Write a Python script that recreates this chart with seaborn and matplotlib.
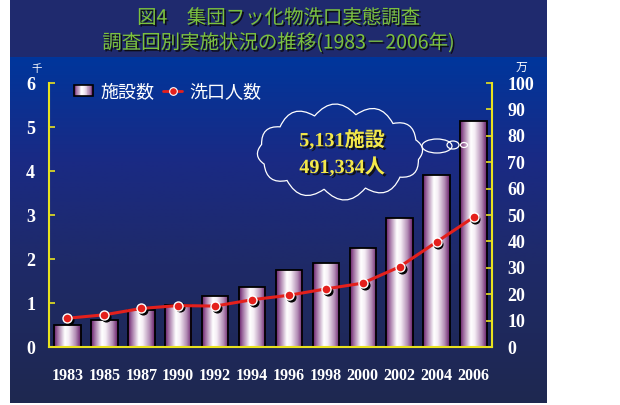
import numpy as np
import pandas as pd
import matplotlib
matplotlib.use('Agg')
import matplotlib.pyplot as plt
import seaborn as sns
from matplotlib.colors import LinearSegmentedColormap
from matplotlib.patches import Rectangle, Ellipse, PathPatch
from matplotlib.path import Path
from matplotlib.legend_handler import HandlerBase
from matplotlib.lines import Line2D
import matplotlib.patheffects as pe
import matplotlib.transforms as mtransforms

# ---------------- data ----------------
years = ['1983', '1985', '1987', '1990', '1992', '1994', '1996', '1998', '2000', '2002', '2004', '2006']
facilities = [0.50, 0.62, 0.85, 0.96, 1.16, 1.37, 1.74, 1.91, 2.25, 2.94, 3.90, 5.131]   # 千施設
people = [10.9, 12.2, 14.6, 15.7, 15.5, 17.9, 19.6, 22.0, 24.2, 30.4, 39.8, 49.13]      # 万人
left_ticks = [0, 1, 2, 3, 4, 5, 6]
right_ticks = [0, 10, 20, 30, 40, 50, 60, 70, 80, 90, 100]
title_lines = ['図4　集団フッ化物洗口実態調査', '調査回別実施状況の推移(1983－2006年)']
legend_labels = ['施設数', '洗口人数']
callout_lines = ['5,131施設', '491,334人']
left_unit = '千'
right_unit = '万'

# ---------------- style ----------------
sns.set_theme(style='white')
plt.rcParams['font.family'] = ['Noto Sans CJK JP', 'DejaVu Sans']

YELLOW = '#e8e21e'
RED = '#e4201c'
SERIF = ['Liberation Serif', 'Noto Sans CJK JP']

W, H = 620, 405
fig = plt.figure(figsize=(6.2, 4.05), dpi=100, facecolor='white')


def fx(x):
    return x / W


def fy(y):
    return 1 - y / H


# background axes in pixel coordinates
bg = fig.add_axes([0, 0, 1, 1], zorder=0)
bg.add_patch(Rectangle((10, 0), 537, 57, color='#1f2a6e', lw=0))
grad_cmap = LinearSegmentedColormap.from_list(
    'bgv', [(0, '#00369c'), (0.3, '#1a2a84'), (0.6, '#1f2a68'), (1, '#1e2850')])
bg.imshow(np.linspace(0, 1, 256).reshape(-1, 1), cmap=grad_cmap, aspect='auto',
          extent=(10, 547, 403, 57), interpolation='bilinear')
bg.set_xlim(0, W)
bg.set_ylim(H, 0)
bg.axis('off')

# title
for i, t in enumerate(title_lines):
    bg.text(279, 18 + i * 25, t, ha='center', va='center', fontsize=14, color='#7cc23e',
            path_effects=[pe.withSimplePatchShadow(offset=(1.2, -1.2), shadow_rgbFace='#0a0a0a', alpha=0.9)])

# unit labels
bg.text(37, 69, left_unit, ha='center', va='center', fontsize=7.5, color='white')
bg.text(521, 67, right_unit, ha='center', va='center', fontsize=8.5, color='white')

# ---------------- main axes ----------------
df = pd.DataFrame({'year': years, 'facilities': facilities, 'people': people})
df['pos'] = np.arange(len(df))

ax = fig.add_axes([fx(49), fy(347), fx(492) - fx(49), fy(83) - fy(347)], zorder=2)
ax.set_facecolor('none')
sns.barplot(data=df, x='year', y='facilities', ax=ax, width=0.72, color='white',
            edgecolor='black', linewidth=1.3, saturation=1)

bar_cmap = LinearSegmentedColormap.from_list(
    'bar', [(0, '#661c68'), (0.12, '#9a669c'), (0.40, '#ffffff'), (0.55, '#f5eef5'),
            (0.8, '#b48eb6'), (1, '#661c68')])
grad = np.linspace(0, 1, 128).reshape(1, -1)
for p in list(ax.patches):
    x0, y0 = p.get_x(), p.get_y()
    w, h = p.get_width(), p.get_height()
    im = ax.imshow(grad, cmap=bar_cmap, aspect='auto', extent=(x0, x0 + w, y0, y0 + h),
                   zorder=1.5, interpolation='bilinear')
    im.set_clip_path(p)
    p.set_facecolor('none')
    p.set_zorder(1.6)

ax.set_xlim(-0.5, len(years) - 0.5)
ax.set_ylim(0, 6)
ax.set_xlabel('')
ax.set_ylabel('')
ax.set_xticks(df['pos'], labels=years, fontfamily=SERIF, fontweight='bold', fontsize=11.5, color='white')
ax.set_yticks(left_ticks, labels=[str(v) for v in left_ticks], fontfamily=SERIF,
              fontweight='bold', fontsize=13, color='white')
ax.tick_params(axis='x', bottom=False, length=0, pad=15)
ax.tick_params(axis='y', left=True, direction='in', length=4, width=1.2, color=YELLOW, pad=10)
for s in ['top', 'right']:
    ax.spines[s].set_visible(False)
for s in ['left', 'bottom']:
    ax.spines[s].set_color(YELLOW)
    ax.spines[s].set_linewidth(1.5)

# ---------------- line on right axis ----------------
ax2 = ax.twinx()
ax2.set_zorder(3)
shadow_tr = mtransforms.offset_copy(ax2.transData, fig=fig, x=1.8, y=-1.8, units='dots')
sns.lineplot(data=df, x='pos', y='people', ax=ax2, linewidth=0, marker='o', markersize=6.5,
             color='black', markerfacecolor='black', markeredgecolor='black',
             transform=shadow_tr, legend=False)
sns.lineplot(data=df, x='pos', y='people', ax=ax2, color=RED, linewidth=2.2, marker='o',
             markersize=6.5, markerfacecolor=RED, markeredgecolor='white', markeredgewidth=1.0,
             legend=False)
ax2.set_ylim(0, 100)
ax2.set_xlim(-0.5, len(years) - 0.5)
ax2.set_ylabel('')
ax2.set_xlabel('')
ax2.set_yticks(right_ticks, labels=[str(v) for v in right_ticks], fontfamily=SERIF,
               fontweight='bold', fontsize=13, color='white')
ax2.tick_params(axis='y', right=True, direction='in', length=4, width=1.2, color=YELLOW, pad=11)
for s in ['top', 'left', 'bottom']:
    ax2.spines[s].set_visible(False)
ax2.spines['right'].set_color(YELLOW)
ax2.spines['right'].set_linewidth(1.5)


# ---------------- legend ----------------
class GradHandler(HandlerBase):
    def create_artists(self, legend, orig_handle, xdescent, ydescent, width, height, fontsize, trans):
        n = 24
        arts = []
        for i in range(n):
            arts.append(Rectangle((-xdescent + width * i / n, -ydescent), width / n, height,
                                  facecolor=bar_cmap((i + 0.5) / n), edgecolor='none', transform=trans))
        arts.append(Rectangle((-xdescent, -ydescent), width, height, facecolor='none',
                              edgecolor='black', lw=1.2, transform=trans))
        return arts


bar_proxy = Rectangle((0, 0), 1, 1)
line_proxy = Line2D([], [], color=RED, lw=2, marker='o', markersize=5.5,
                    markerfacecolor=RED, markeredgecolor='white', markeredgewidth=0.8)
leg = ax2.legend([bar_proxy, line_proxy], legend_labels, handler_map={bar_proxy: GradHandler()},
                 loc='upper left', bbox_to_anchor=(fx(74), fy(83)), bbox_transform=fig.transFigure,
                 ncol=2, frameon=False, prop={'family': 'Noto Sans CJK JP', 'size': 13},
                 labelcolor='white', handlelength=1.05, handleheight=0.6, columnspacing=0.5,
                 handletextpad=0.4, borderaxespad=0, borderpad=0)

# ---------------- callout cloud ----------------
ov = fig.add_axes([0, 0, 1, 1], zorder=5)
ov.set_xlim(0, W)
ov.set_ylim(H, 0)
ov.axis('off')
cx, cy, a, b = 340, 152, 80, 38
nb = 12
ang = np.linspace(0, 2 * np.pi, nb + 1) + 0.2
pts = np.c_[cx + a * np.cos(ang), cy + b * np.sin(ang)]
verts = [pts[0]]
codes = [Path.MOVETO]
for i in range(nb):
    p0, p1 = pts[i], pts[i + 1]
    mid = (p0 + p1) / 2
    mang = (ang[i] + ang[i + 1]) / 2
    nrm = np.array([np.cos(mang) / a, np.sin(mang) / b])
    nrm = nrm / np.linalg.norm(nrm)
    ctrl = mid + nrm * np.linalg.norm(p1 - p0) * 0.55
    verts += [ctrl, p1]
    codes += [Path.CURVE3, Path.CURVE3]
ov.add_patch(PathPatch(Path(verts, codes), facecolor='none', edgecolor='white', lw=0.9))
for (ex, ey, ew, eh) in [(437, 146, 30, 14), (453, 145, 12, 8), (464, 145, 7, 5)]:
    ov.add_patch(Ellipse((ex, ey), ew, eh, facecolor='none', edgecolor='white', lw=0.9))
for i, t in enumerate(callout_lines):
    ov.text(342, 141 + i * 27, t, ha='center', va='center', fontsize=14.5, fontweight='bold',
            fontfamily=SERIF, color='#f3e84a',
            path_effects=[pe.withSimplePatchShadow(offset=(1.5, -1.5), shadow_rgbFace='#101010', alpha=0.9)])

fig.savefig('out.png', dpi=100, facecolor='white')
